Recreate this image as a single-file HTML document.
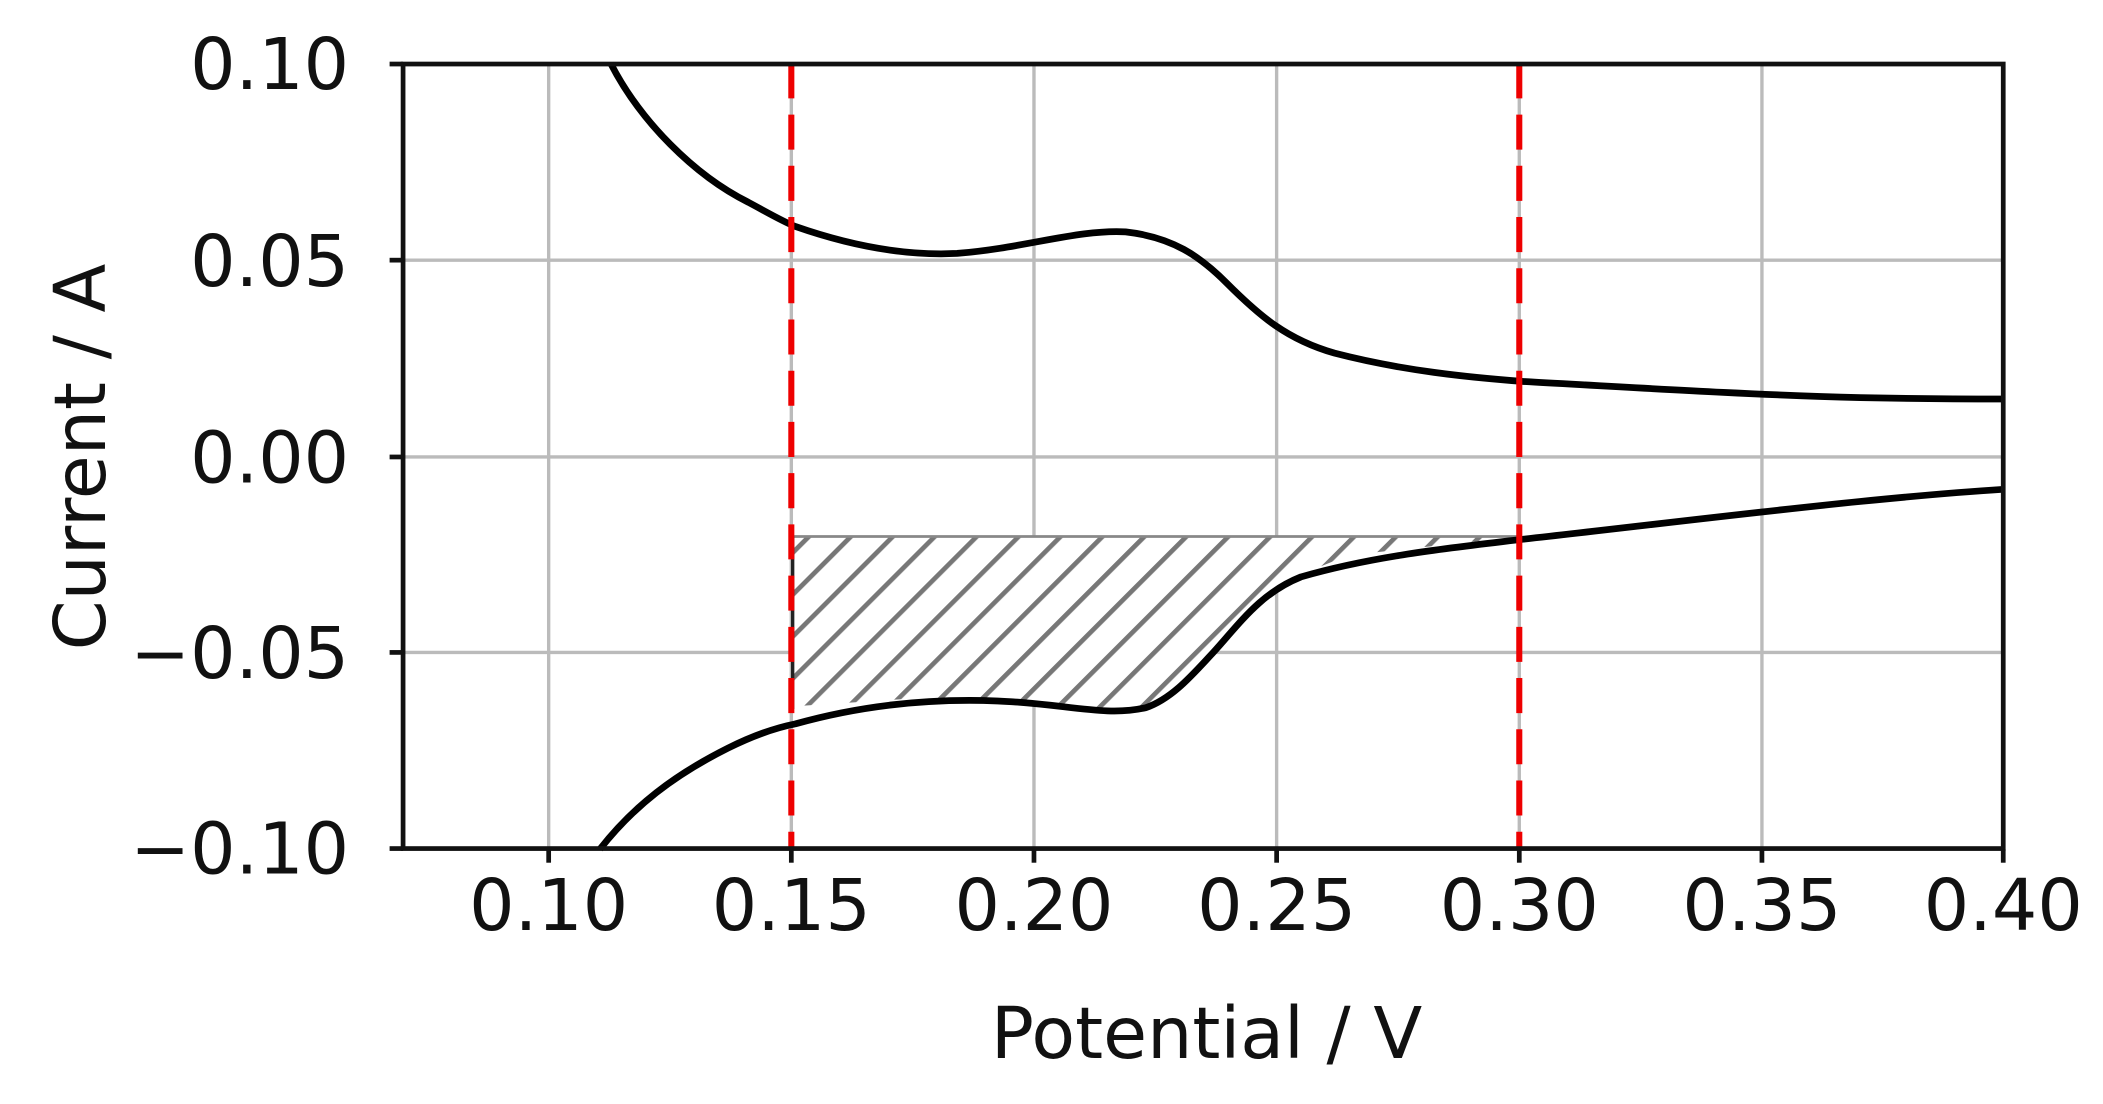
<!DOCTYPE html>
<html><head><meta charset="utf-8"><style>
html,body{margin:0;padding:0;background:#fff;}
svg{display:block;}
text{font-family:"DejaVu Sans","Liberation Sans",sans-serif;fill:#111;}
</style></head><body>
<svg width="2103" height="1104" viewBox="0 0 1560 819" preserveAspectRatio="none" xmlns="http://www.w3.org/2000/svg">
<defs>
<pattern id="h" patternUnits="userSpaceOnUse" width="22" height="22" patternTransform="rotate(45)">
<rect width="22" height="22" fill="#fff"/>
<line x1="0" y1="0" x2="0" y2="22" stroke="#777" stroke-width="7"/>
</pattern>
</defs>
<g stroke="#bbb" stroke-width="2.5">
<line x1="407" y1="47" x2="407" y2="630"/>
<line x1="587" y1="47" x2="587" y2="630"/>
<line x1="767" y1="47" x2="767" y2="630"/>
<line x1="947" y1="47" x2="947" y2="630"/>
<line x1="1127" y1="47" x2="1127" y2="630"/>
<line x1="1307" y1="47" x2="1307" y2="630"/>
<line x1="299" y1="193" x2="1486" y2="193"/>
<line x1="299" y1="339" x2="1486" y2="339"/>
<line x1="299" y1="484" x2="1486" y2="484"/>
</g>
<path d="M588,398 L1128,398 L1000,412 L960,428 L930,455 L900,487 L870,518 L840,528 L790,524 L740,520 L680,518 L588,524 Z" fill="url(#h)" stroke="none"/>
<line x1="588" y1="398" x2="1128" y2="398" stroke="#888" stroke-width="2"/>
<line x1="588" y1="398" x2="588" y2="526" stroke="#222" stroke-width="2.5"/>
<path d="M453,47 C475,90 515,130 555,150 C570,158 580,164 590,168 C630,182 670,190 710,188 C760,184 800,170 835,172 C870,176 890,190 910,210 C935,235 955,252 990,262 C1040,275 1090,280 1130,283 C1220,288 1300,293 1380,295 C1430,296 1470,296 1486,296" fill="none" stroke="#000" stroke-width="5"/>
<path d="M445,630 C470,598 500,575 540,555 C560,545 575,540 590,537 C640,523 690,518 740,520 C790,522 820,532 850,525 C870,518 885,500 900,484 C920,462 935,440 965,428 C1020,412 1080,406 1130,400 C1220,390 1300,380 1380,372 C1430,367 1470,364 1486,363" fill="none" stroke="#000" stroke-width="5"/>
<g stroke="#e00" stroke-width="4.5" stroke-dasharray="26,12">
<line x1="587" y1="47" x2="587" y2="630"/>
<line x1="1127" y1="47" x2="1127" y2="630"/>
</g>
<rect x="299" y="47.5" width="1187" height="582" fill="none" stroke="#111" stroke-width="3.5"/>
<g stroke="#111" stroke-width="3.5">
<line x1="289" y1="47.5" x2="299" y2="47.5"/>
<line x1="289" y1="193" x2="299" y2="193"/>
<line x1="289" y1="339" x2="299" y2="339"/>
<line x1="289" y1="484" x2="299" y2="484"/>
<line x1="289" y1="629.5" x2="299" y2="629.5"/>
<line x1="407" y1="630" x2="407" y2="640"/>
<line x1="587" y1="630" x2="587" y2="640"/>
<line x1="767" y1="630" x2="767" y2="640"/>
<line x1="947" y1="630" x2="947" y2="640"/>
<line x1="1127" y1="630" x2="1127" y2="640"/>
<line x1="1307" y1="630" x2="1307" y2="640"/>
<line x1="1486" y1="630" x2="1486" y2="640"/>
</g>
<g font-size="53" text-anchor="end">
<text x="259" y="66">0.10</text>
<text x="259" y="212">0.05</text>
<text x="259" y="358">0.00</text>
<text x="259" y="503">−0.05</text>
<text x="259" y="648">−0.10</text>
</g>
<g font-size="53" text-anchor="middle">
<text x="407" y="690">0.10</text>
<text x="587" y="690">0.15</text>
<text x="767" y="690">0.20</text>
<text x="947" y="690">0.25</text>
<text x="1127" y="690">0.30</text>
<text x="1307" y="690">0.35</text>
<text x="1486" y="690">0.40</text>
</g>
<text x="895" y="785" font-size="53" text-anchor="middle">Potential / V</text>
<text transform="translate(78,339) rotate(-90)" font-size="53" text-anchor="middle">Current / A</text>
</svg>
</body></html>
